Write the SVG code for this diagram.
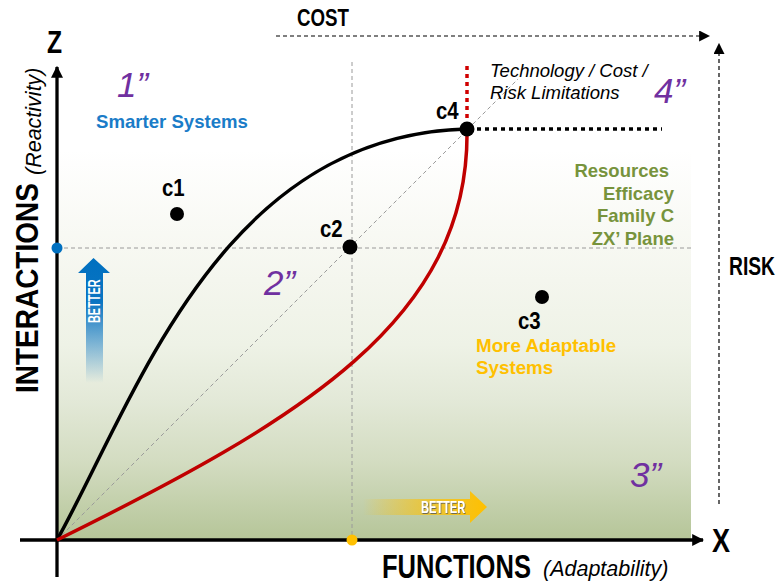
<svg xmlns="http://www.w3.org/2000/svg" width="779" height="586" viewBox="0 0 779 586">
<style>
.cond{font-family:"Liberation Sans","Arial",sans-serif;font-weight:bold;fill:#000}
.ital{font-family:"Liberation Sans","Arial",sans-serif;font-style:italic;fill:#000}
.num{font-family:"Liberation Sans","Arial",sans-serif;font-style:italic;font-size:35px;fill:#7030a0}
.lbl{font-family:"Liberation Sans","Arial",sans-serif;font-weight:bold;font-size:24px;fill:#000}
.region{font-family:"Liberation Sans","Arial",sans-serif;font-weight:bold}
.grid{stroke:#9a9a9a;stroke-width:1;stroke-dasharray:4 3;fill:none}
.dash{stroke:#000;stroke-width:1.2;stroke-dasharray:4 3;fill:none}
.axis{stroke:#000;stroke-width:3.3;fill:none}
.dot{fill:#000}
</style>
<defs>
<linearGradient id="bg" x1="0" y1="0" x2="0" y2="1">
<stop offset="0" stop-color="#ffffff"/>
<stop offset="0.25" stop-color="#f7f8f2"/>
<stop offset="0.5" stop-color="#eef2e6"/>
<stop offset="0.64" stop-color="#e3e9d8"/>
<stop offset="0.8" stop-color="#d3dcc1"/>
<stop offset="1" stop-color="#b5c598"/>
</linearGradient>
<linearGradient id="blueFade" x1="0" y1="0" x2="0" y2="1">
<stop offset="0" stop-color="#0070c0"/>
<stop offset="0.35" stop-color="#0a74c2"/>
<stop offset="1" stop-color="#0070c0" stop-opacity="0"/>
</linearGradient>
<linearGradient id="yellowFade" x1="0" y1="0" x2="1" y2="0">
<stop offset="0" stop-color="#ffc000" stop-opacity="0"/>
<stop offset="0.55" stop-color="#f5c21a" stop-opacity="0.8"/>
<stop offset="1" stop-color="#ffc000"/>
</linearGradient>
<marker id="ah" viewBox="0 0 10 10" refX="9" refY="5" markerWidth="11" markerHeight="11" markerUnits="userSpaceOnUse" orient="auto">
<path d="M0,0 L10,5 L0,10 Z" fill="#000"/>
</marker>
<marker id="ahBig" viewBox="0 0 10 10" refX="9" refY="5" markerWidth="12" markerHeight="12" markerUnits="userSpaceOnUse" orient="auto">
<path d="M0,0 L10,5 L0,10 Z" fill="#000"/>
</marker>
<filter id="sh" x="-10%" y="-30%" width="130%" height="160%">
<feDropShadow dx="1" dy="1" stdDeviation="0.6" flood-color="#555" flood-opacity="0.8"/>
</filter>
</defs>

<rect id="background" x="57" y="150" width="634" height="390" fill="url(#bg)"/>

<g id="connectors">
<line class="grid" x1="352" y1="62" x2="352" y2="540"/>
<line class="grid" x1="57" y1="248" x2="693" y2="248"/>
<line class="grid" x1="57" y1="540" x2="518" y2="79"/>
<line class="dash" x1="276" y1="36" x2="709" y2="36" marker-end="url(#ah)"/>
<line class="dash" x1="719" y1="504" x2="719" y2="44" marker-end="url(#ah)"/>
<line class="axis" x1="57" y1="577" x2="57" y2="67" marker-end="url(#ahBig)"/>
<line class="axis" x1="20" y1="540" x2="703" y2="540" marker-end="url(#ahBig)"/>
<line x1="467" y1="66" x2="467" y2="121" stroke="#d00000" stroke-width="3.5" stroke-dasharray="4 4"/>
<line x1="477" y1="129" x2="662" y2="129" stroke="#000" stroke-width="3.5" stroke-dasharray="4 4"/>
<path id="curve-black" d="M57,540 C135,400 220,135 467,129" fill="none" stroke="#000" stroke-width="3.5"/>
<path id="curve-red" d="M57,540 C300,420 470,320 467,129" fill="none" stroke="#c00000" stroke-width="3.5"/>
</g>

<g id="axis-labels">
<text class="cond" transform="translate(297,26) scale(0.796,1)" font-size="23.5">COST</text>
<text class="cond" transform="translate(47,53) scale(0.77,1)" font-size="32">Z</text>
<text class="cond" transform="translate(729,275) scale(0.77,1)" font-size="25">RISK</text>
<text class="cond" transform="translate(712,552) scale(0.82,1)" font-size="33">X</text>
<text class="cond" transform="translate(382,578) scale(0.774,1)" font-size="33">FUNCTIONS</text>
<text class="ital" x="543" y="576" font-size="21.5">(Adaptability)</text>
<text class="cond" transform="translate(38,393) rotate(-90) scale(0.875,1)" font-size="32">INTERACTIONS</text>
<text class="ital" transform="translate(41,175) rotate(-90)" font-size="21.5">(Reactivity)</text>
</g>

<g id="markers">
<circle cx="57" cy="248" r="5.5" fill="#0070c0"/>
<circle cx="352" cy="540" r="5.5" fill="#ffc000"/>
</g>

<g id="c1"><circle class="dot" cx="177" cy="214" r="7"/><text class="lbl" transform="translate(162,196) scale(0.85,1)">c1</text></g>
<g id="c2"><circle class="dot" cx="350" cy="247" r="7.5"/><text class="lbl" transform="translate(320,237) scale(0.85,1)">c2</text></g>
<g id="c3"><circle class="dot" cx="542" cy="297" r="7"/><text class="lbl" transform="translate(518,329) scale(0.85,1)">c3</text></g>
<g id="c4"><circle class="dot" cx="467" cy="129" r="7.5"/><text class="lbl" transform="translate(436,119) scale(0.85,1)">c4</text></g>

<g id="region-1"><text class="num" x="117" y="97">1”</text>
<text class="region" x="96" y="128" font-size="18.6" fill="#1a7cc8">Smarter Systems</text></g>
<g id="region-2"><text class="num" x="264" y="295">2”</text></g>
<g id="region-3"><text class="num" x="630" y="487">3”</text>
<text class="region" x="476" y="352" font-size="18.8" fill="#ffc000">More Adaptable</text>
<text class="region" x="476" y="374" font-size="18.8" fill="#ffc000">Systems</text></g>
<g id="region-4"><text class="num" x="654" y="103">4”</text>
<text class="ital" x="490" y="77" font-size="18.5">Technology / Cost /</text>
<text class="ital" x="490" y="99" font-size="18.5">Risk Limitations</text></g>

<g id="resources" class="region" font-size="18.5" fill="#77933c" text-anchor="end">
<text x="669" y="177">Resources</text>
<text x="674" y="200">Efficacy</text>
<text x="674" y="222">Family C</text>
<text x="674" y="245">ZX’ Plane</text>
</g>

<g id="better-up">
<path d="M86,383 L86,273 L78,273 L93.5,258 L110,273 L103,273 L103,383 Z" fill="url(#blueFade)"/>
<text class="cond" transform="translate(99.5,323) rotate(-90) scale(0.68,1)" font-size="16" style="fill:#fff">BETTER</text>
</g>

<g id="better-right">
<path d="M363,499 L470,499 L470,491 L487,507 L470,523 L470,515 L363,515 Z" fill="url(#yellowFade)"/>
<text class="cond" transform="translate(421,513) scale(0.67,1)" font-size="16.5" style="fill:#fff" filter="url(#sh)">BETTER</text>
</g>
</svg>
